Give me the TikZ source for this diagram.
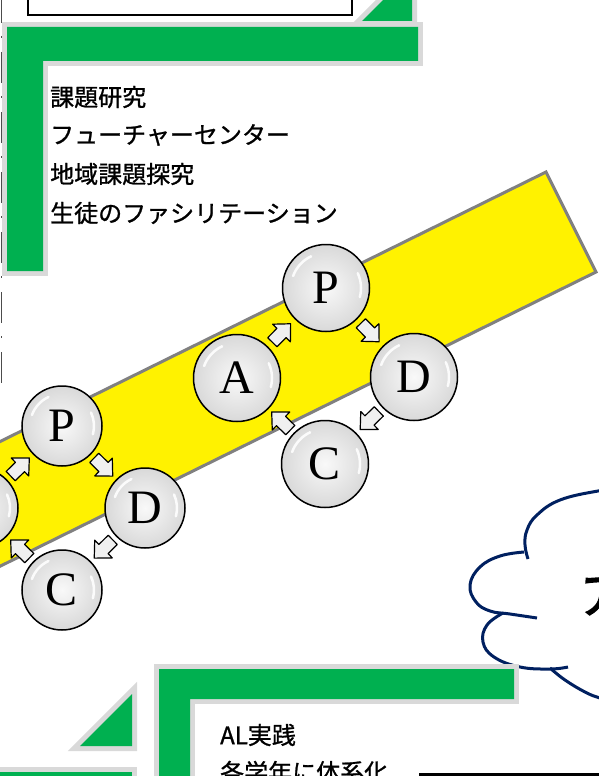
\documentclass[tikz,border=0pt]{standalone}
\usepackage{fontspec}
\newfontfamily\jp{Noto Sans CJK JP}[FakeBold=1]
\newfontfamily\jpbold{Noto Sans CJK JP}[FakeBold=3,FakeSlant=0.15]
\newfontfamily\serifL{Liberation Serif}
\usetikzlibrary{calc}
\definecolor{grn}{HTML}{00B050}
\definecolor{framegray}{HTML}{D9D9D9}
\definecolor{navy}{HTML}{002060}
\definecolor{bandedge}{HTML}{808080}
\tikzset{
  greenshape/.style={fill=grn, preaction={draw=framegray, line width=10pt, line join=miter}},
  pdca/.style={circle, draw=black, line width=1.5pt, inner sep=0pt, minimum size=#1,
    inner color=gray!5, outer color=gray!30, font=\serifL\fontsize{48}{48}\selectfont},
  blkarrow/.pic={\draw[black, line width=1.2pt, fill=gray!12, line join=round]
    (-13,-6.5) -- (0,-6.5) -- (0,-12.5) -- (13,0) -- (0,12.5) -- (0,6.5) -- (-13,6.5) -- cycle;},
  jptext/.style={anchor=west, inner sep=0pt, font=\jp\fontsize{24}{28}\selectfont},
  gloss/.style={white, line width=2.5pt, line cap=round, opacity=0.9},
  cloudline/.style={navy, line width=3pt}
}
\newcommand\pdcaarrow[2]{\path let \p1=($(#2)-(#1)$), \n1={atan2(\y1,\x1)} in
  ($(#1)!0.5!(#2)$) pic[rotate=\n1] {blkarrow};}
\newcommand\glosson[2]{%
  \draw[gloss] ($(#1)+(200:#2)$) arc[start angle=200, end angle=245, radius=#2];
  \draw[gloss] ($(#1)+(-25:#2)$) arc[start angle=-25, end angle=15, radius=#2];}

\begin{document}
\begin{tikzpicture}[x=1pt,y=-1pt]
\useasboundingbox (0,0) rectangle (598,776);
\fill[white] (0,0) rectangle (598,776);

% left dash-dot line
\draw[gray!60!black, line width=1.8pt, dash pattern=on 31pt off 13pt on 2pt off 14pt] (1.5,-8) -- (1.5,388);

% top white box
\draw[black, line width=1.5pt, fill=white] (28,-10) rectangle (352,15);

% top right triangle
\path[greenshape] (362,21) -- (412,-29) -- (412,21) -- cycle;

% top green L
\path[greenshape] (7,27) -- (418,27) -- (418,61) -- (43,61) -- (43,271) -- (7,271) -- cycle;

% texts
\node[jptext] (t1) at (50,97) {課題研究};
\node[jptext] (t2) at (50,135) {フューチャーセンター};
\node[jptext] (t3) at (50,174) {地域課題探究};
\node[jptext] (t4) at (50,213) {生徒のファシリテーション};

% yellow band
\draw[fill=yellow, draw=bandedge, line width=3pt, line join=miter]
  (546,172) -- (596,272) -- (-121,626) -- (-171,526) -- cycle;

% right PDCA cycle
\node[pdca=87pt] (A1) at (237,378) {A};
\node[pdca=87pt] (P1) at (326,288) {P};
\node[pdca=87pt] (D1) at (414,377) {D};
\node[pdca=87pt] (C1) at (325,464) {C};
% left PDCA cycle
\node[pdca=80pt] (A2) at (-22,508) {A};
\node[pdca=80pt] (P2) at (62,426) {P};
\node[pdca=80pt] (D2) at (145,508) {D};
\node[pdca=80pt] (C2) at (62,590) {C};

\glosson{A1}{35}\glosson{P1}{35}\glosson{D1}{35}\glosson{C1}{35}
\glosson{A2}{32}\glosson{P2}{32}\glosson{D2}{32}\glosson{C2}{32}

\pdcaarrow{A1}{P1}\pdcaarrow{P1}{D1}\pdcaarrow{D1}{C1}\pdcaarrow{C1}{A1}
\pdcaarrow{A2}{P2}\pdcaarrow{P2}{D2}\pdcaarrow{D2}{C2}\pdcaarrow{C2}{A2}

% cloud (partly visible)
\draw[cloudline] plot[smooth, tension=0.7] coordinates {(528,559) (525,545) (527,530) (537,515) (560,500) (598,491) (620,489)};
\draw[cloudline] plot[smooth, tension=0.7] coordinates {(524,552) (500,556) (480,567) (470,585) (476,602) (490,611) (510,614) (537,618)};
\draw[cloudline] plot[smooth, tension=0.7] coordinates {(503,613) (487,625) (483,642) (494,657) (520,667) (550,669) (568,667)};
\draw[cloudline] plot[smooth, tension=0.7] coordinates {(550,668) (565,680) (585,692) (600,698) (620,703)};
\node[anchor=north west, inner sep=0pt, rotate=4, font=\jpbold\fontsize{48}{48}\selectfont] (cloudtxt) at (575,579) {ア};

% bottom triangle
\path[greenshape] (80,746) -- (132,694) -- (132,746) -- cycle;
% bottom-left bar
\path[greenshape] (-10,772) -- (132,772) -- (132,800) -- (-10,800) -- cycle;
% bottom green L
\path[greenshape] (159,669) -- (514,669) -- (514,699) -- (190,699) -- (190,800) -- (159,800) -- cycle;

\node[jptext] (t5) at (220,735) {AL実践};
\node[jptext] (t6) at (220,772) {各学年に体系化};

% bottom black box
\draw[black, line width=3pt] (420,774) rectangle (640,820);
\end{tikzpicture}
\end{document}
